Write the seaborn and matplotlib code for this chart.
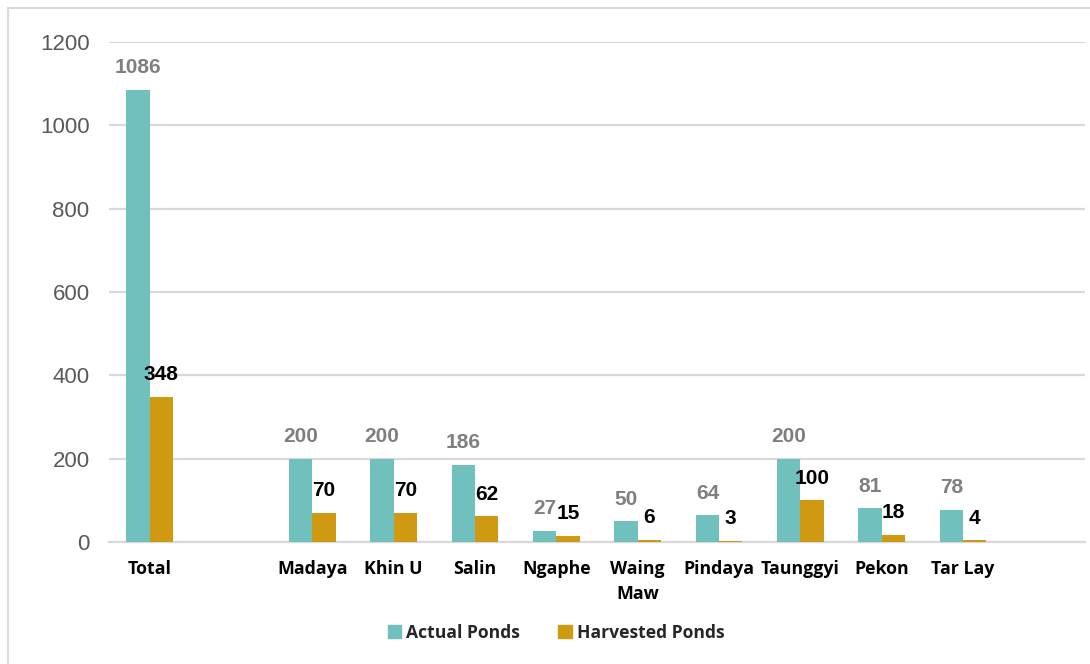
import numpy as np
import pandas as pd
import matplotlib
matplotlib.use("Agg")
import matplotlib.pyplot as plt
import matplotlib.patches as mpatches
import seaborn as sns

# ---- data ----
categories = ["Total", "Madaya", "Khin U", "Salin", "Ngaphe", "Waing\nMaw",
              "Pindaya", "Taunggyi", "Pekon", "Tar Lay"]
actual_ponds = [1086, 200, 200, 186, 27, 50, 64, 200, 81, 78]
harvested_ponds = [348, 70, 70, 62, 15, 6, 3, 100, 18, 4]
series_names = ["Actual Ponds", "Harvested Ponds"]
# order on the axis, with empty slots as in the original
axis_order = ["Total", "", "Madaya", "Khin U", "Salin", "Ngaphe", "Waing\nMaw",
              "Pindaya", "Taunggyi", "Pekon", "Tar Lay", " "]
y_ticks = [0, 200, 400, 600, 800, 1000, 1200]

df = pd.DataFrame({
    "category": categories * 2,
    "series": [series_names[0]] * len(categories) + [series_names[1]] * len(categories),
    "value": actual_ponds + harvested_ponds,
})

sns.set_theme(style="white")
plt.rcParams["font.family"] = ["Liberation Sans", "DejaVu Sans"]

fig = plt.figure(figsize=(10.9, 6.64), dpi=100)
ax = fig.add_axes([109 / 1090, 1 - 542 / 664, (1085 - 109) / 1090, 500 / 664])

colors = ["#70C0BE", "#CF9A12"]
sns.barplot(data=df, x="category", y="value", hue="series", order=axis_order,
            hue_order=series_names, palette=colors, width=0.57, gap=0,
            saturation=1, ax=ax, legend=True, zorder=3, linewidth=0)

ax.set_ylim(0, 1200)
ax.set_xlim(-0.5, len(axis_order) - 0.5)
ax.set_yticks(y_ticks)
ax.set_yticklabels([str(t) for t in y_ticks], fontsize=16, color="#595959")
ax.tick_params(axis="y", length=0, pad=14)
ax.tick_params(axis="x", length=0, pad=13)
ax.set_xticks(range(len(axis_order)))
ax.set_xticklabels(axis_order, fontsize=12.8, fontweight="bold", color="black",
                   family=["Open Sans", "DejaVu Sans"], va="top", linespacing=1.5)
ax.set_xlabel("")
ax.set_ylabel("")
ax.yaxis.grid(True, color="#D9D9D9", linewidth=1.6)
ax.set_axisbelow(True)
for s in ["top", "right", "left"]:
    ax.spines[s].set_visible(False)
ax.spines["bottom"].set_color("#D9D9D9")
ax.spines["bottom"].set_linewidth(1.6)
ax.spines["bottom"].set_zorder(1)
for p in ax.patches:
    p.set_zorder(3)

label_colors = ["#7F7F7F", "black"]
for cont, col in zip(ax.containers, label_colors):
    ax.bar_label(cont, labels=[("" if np.isnan(v) else f"{int(v)}") for v in cont.datavalues],
                 padding=9, fontsize=15, fontweight="bold", color=col)

handles = [mpatches.Patch(color=c) for c in colors]
ax.legend(handles, series_names, loc="center", bbox_to_anchor=(556 / 1090, 1 - 633 / 664),
          bbox_transform=fig.transFigure, ncol=2, frameon=False,
          handlelength=0.75, handleheight=0.75, handletextpad=0.3, columnspacing=2.2,
          prop={"family": ["Open Sans", "DejaVu Sans"], "weight": "bold", "size": 12.6})

border = mpatches.Rectangle((8 / 1090, -0.1), 1.2, 1.1 - 8 / 664, transform=fig.transFigure,
                            fill=False, edgecolor="#D9D9D9", linewidth=1.5, clip_on=False)
fig.patches.append(border)

fig.savefig("out.png", dpi=100)
